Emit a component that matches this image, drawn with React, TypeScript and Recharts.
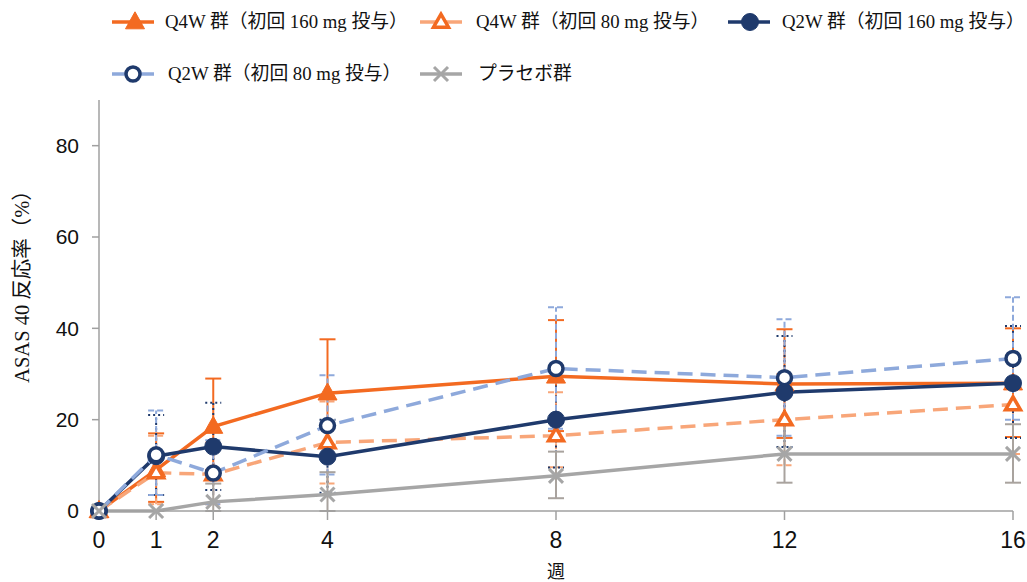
import React from 'react';
import { LineChart, Line, XAxis, YAxis, ErrorBar, Legend, Label } from 'recharts';

const weeks = [0, 1, 2, 4, 8, 12, 16];
const yTicks = [0, 20, 40, 60, 80];

const q4w160 = [0, 9, 18.5, 25.8, 29.5, 27.8, 28];
const q4w160Lo = [0, 2, 9, 14.5, 17.5, 16, 16.2];
const q4w160Hi = [0, 17, 29, 37.6, 41.8, 39.8, 40];

const q4w80 = [0, 8.4, 8, 15, 16.5, 20, 23.3];
const q4w80Lo = [0, 1.5, 1.5, 6, 9.6, 10, 12.5];
const q4w80Hi = [0, 16.5, 15, 24, 26, 30, 34];

const q2w160 = [0, 12, 14.1, 11.9, 20, 26, 28];
const q2w160Lo = [0, 3.5, 4.6, 4, 9.5, 14, 16];
const q2w160Hi = [0, 21, 23.7, 20, 31, 38.3, 40.5];

const q2w80 = [0, 12.3, 8.3, 18.7, 31.2, 29.2, 33.4];
const q2w80Lo = [0, 3.5, 1.5, 8, 18, 16.5, 20];
const q2w80Hi = [0, 22, 15.5, 29.7, 44.6, 42, 46.8];

const placebo = [0, 0, 2, 3.6, 7.7, 12.5, 12.5];
const placeboLo = [0, 0, 0, 0, 2.8, 6.2, 6.2];
const placeboHi = [0, 0, 6, 8.5, 13, 19, 19];

const seriesNames = {
  q4w160: 'Q4W 群（初回 160 mg 投与）',
  q4w80: 'Q4W 群（初回 80 mg 投与）',
  q2w160: 'Q2W 群（初回 160 mg 投与）',
  q2w80: 'Q2W 群（初回 80 mg 投与）',
  placebo: 'プラセボ群',
};

const err = (v: number[], lo: number[], hi: number[], i: number) => [v[i] - lo[i], hi[i] - v[i]];

const data = weeks.map((w, i) => ({
  week: w,
  q4w160: q4w160[i],
  q4w160Err: err(q4w160, q4w160Lo, q4w160Hi, i),
  q4w80: q4w80[i],
  q4w80Err: err(q4w80, q4w80Lo, q4w80Hi, i),
  q2w160: q2w160[i],
  q2w160Err: err(q2w160, q2w160Lo, q2w160Hi, i),
  q2w80: q2w80[i],
  q2w80Err: err(q2w80, q2w80Lo, q2w80Hi, i),
  placebo: placebo[i],
  placeboErr: err(placebo, placeboLo, placeboHi, i),
}));

const ORANGE = '#F36A21';
const LIGHT_ORANGE = '#F8A679';
const NAVY = '#1F3A6C';
const LIGHT_BLUE = '#8EA9DB';
const GRAY = '#A6A6A6';
const AXIS = '#A0A0A0';

type Shape = 'triFilled' | 'triOpen' | 'circFilled' | 'circOpen' | 'cross';

const Marker = ({ shape, cx, cy }: { shape: Shape; cx: number; cy: number }) => {
  switch (shape) {
    case 'triFilled': {
      const w = 19, h = 17;
      return <polygon points={`${cx},${cy - h * 0.6} ${cx - w / 2},${cy + h * 0.4} ${cx + w / 2},${cy + h * 0.4}`} fill={ORANGE} stroke={ORANGE} strokeWidth={1} />;
    }
    case 'triOpen': {
      const w = 15, h = 13;
      return <polygon points={`${cx},${cy - h * 0.6} ${cx - w / 2},${cy + h * 0.4} ${cx + w / 2},${cy + h * 0.4}`} fill="#fff" stroke={ORANGE} strokeWidth={3.5} />;
    }
    case 'circFilled':
      return <circle cx={cx} cy={cy} r={8.5} fill={NAVY} stroke={NAVY} strokeWidth={1} />;
    case 'circOpen':
      return <circle cx={cx} cy={cy} r={7} fill="#fff" stroke={NAVY} strokeWidth={3.5} />;
    case 'cross':
    default:
      return (
        <g stroke={GRAY} strokeWidth={3}>
          <line x1={cx - 7} y1={cy - 7} x2={cx + 7} y2={cy + 7} />
          <line x1={cx - 7} y1={cy + 7} x2={cx + 7} y2={cy - 7} />
        </g>
      );
  }
};

const makeDot = (shape: Shape) => (props: any) => {
  const { cx, cy, index } = props;
  if (cx == null || cy == null) return <g key={`${shape}-${index}`} />;
  return (
    <g key={`${shape}-${index}`}>
      <Marker shape={shape} cx={cx} cy={cy} />
    </g>
  );
};

const legendRows = [
  [
    { key: 'q4w160', shape: 'triFilled' as Shape, color: ORANGE, x: 112, mx: 135, tx: 165 },
    { key: 'q4w80', shape: 'triOpen' as Shape, color: LIGHT_ORANGE, x: 420, mx: 441, tx: 476 },
    { key: 'q2w160', shape: 'circFilled' as Shape, color: NAVY, x: 728, mx: 750, tx: 782 },
  ],
  [
    { key: 'q2w80', shape: 'circOpen' as Shape, color: LIGHT_BLUE, x: 112, mx: 133, tx: 168 },
    { key: 'placebo', shape: 'cross' as Shape, color: GRAY, x: 420, mx: 441, tx: 478 },
  ],
];
const rowY = [22, 74];

const LegendBox = () => (
  <div style={{ position: 'relative', width: 1027, height: 100 }}>
    {legendRows.map((row, ri) =>
      row.map((it) => (
        <React.Fragment key={it.key}>
          <svg
            width={60}
            height={30}
            style={{ position: 'absolute', left: it.x - 5, top: rowY[ri] - 15, overflow: 'visible' }}
          >
            <line x1={5} y1={15} x2={5 + 42} y2={15} stroke={it.color} strokeWidth={3.5} />
            <Marker shape={it.shape} cx={it.mx - it.x + 5} cy={15} />
          </svg>
          <span
            style={{
              position: 'absolute',
              left: it.tx,
              top: rowY[ri] - 12,
              lineHeight: '24px',
              fontSize: 18.8,
              whiteSpace: 'nowrap',
              color: '#111',
              fontFamily: '"Liberation Serif", "Noto Sans CJK JP", serif',
            }}
          >
            {(seriesNames as any)[it.key]}
          </span>
        </React.Fragment>
      ))
    )}
  </div>
);

const YLabel = (props: any) => {
  const vb = props.viewBox || { x: 0, y: 100, width: 99, height: 411 };
  const x = vb.x + 22;
  const y = vb.y + vb.height / 2 - 24;
  return (
    <text
      x={x}
      y={y}
      transform={`rotate(-90, ${x}, ${y})`}
      textAnchor="middle"
      dominantBaseline="central"
      fontSize={20.5}
      fill="#111"
      fontFamily='"Liberation Serif", "Noto Sans CJK JP", serif'
    >
      ASAS 40 反応率（%）
    </text>
  );
};

const tickFont = { fontSize: 21, fill: '#111', fontFamily: '"Liberation Sans", Arial, sans-serif' };

export default function App() {
  return (
    <div style={{ position: 'absolute', left: 0, top: 0, width: 1027, height: 582, background: '#fff' }}>
      <LineChart width={1027} height={582} data={data} margin={{ top: 0, right: 14, bottom: 0, left: 0 }}>
        <Legend
          verticalAlign="top"
          align="left"
          wrapperStyle={{ top: 0, left: 0, width: 1027, height: 100 }}
          content={() => <LegendBox />}
        />
        <XAxis
          type="number"
          dataKey="week"
          domain={[0, 16]}
          ticks={weeks}
          interval={0}
          height={71}
          tickSize={9}
          tickMargin={12}
          stroke={AXIS}
          strokeWidth={1.5}
          tick={{ ...tickFont, fontSize: 23 }}
        >
          <Label
            value="週"
            position="insideBottom"
            offset={4}
            style={{ fontSize: 18, fill: '#111', fontFamily: '"Noto Sans CJK JP", serif' }}
          />
        </XAxis>
        <YAxis
          type="number"
          domain={[0, 90]}
          ticks={yTicks}
          interval={0}
          width={99}
          tickSize={7}
          tickMargin={13}
          stroke={AXIS}
          strokeWidth={1.5}
          tick={tickFont}
        >
          <Label content={<YLabel />} />
        </YAxis>

        <Line
          dataKey="q4w160"
          name={seriesNames.q4w160}
          stroke={ORANGE}
          strokeWidth={3.5}
          dot={makeDot('triFilled')}
          activeDot={false}
          isAnimationActive={false}
        >
          <ErrorBar dataKey="q4w160Err" width={8} stroke={ORANGE} strokeWidth={2} direction="y" />
        </Line>
        <Line
          dataKey="q4w80"
          name={seriesNames.q4w80}
          stroke={LIGHT_ORANGE}
          strokeWidth={3.5}
          strokeDasharray="15 8"
          dot={makeDot('triOpen')}
          activeDot={false}
          isAnimationActive={false}
        >
          <ErrorBar dataKey="q4w80Err" width={8} stroke={LIGHT_ORANGE} strokeWidth={2} strokeDasharray="6 3" direction="y" />
        </Line>
        <Line
          dataKey="q2w160"
          name={seriesNames.q2w160}
          stroke={NAVY}
          strokeWidth={3.5}
          dot={makeDot('circFilled')}
          activeDot={false}
          isAnimationActive={false}
        >
          <ErrorBar dataKey="q2w160Err" width={8} stroke={NAVY} strokeWidth={2} strokeDasharray="2 3" direction="y" />
        </Line>
        <Line
          dataKey="q2w80"
          name={seriesNames.q2w80}
          stroke={LIGHT_BLUE}
          strokeWidth={3.5}
          strokeDasharray="15 8"
          dot={makeDot('circOpen')}
          activeDot={false}
          isAnimationActive={false}
        >
          <ErrorBar dataKey="q2w80Err" width={8} stroke={LIGHT_BLUE} strokeWidth={2} strokeDasharray="6 3" direction="y" />
        </Line>
        <Line
          dataKey="placebo"
          name={seriesNames.placebo}
          stroke={GRAY}
          strokeWidth={3.5}
          dot={makeDot('cross')}
          activeDot={false}
          isAnimationActive={false}
        >
          <ErrorBar dataKey="placeboErr" width={8} stroke="#A9A39E" strokeWidth={2} direction="y" />
        </Line>
      </LineChart>
    </div>
  );
}
